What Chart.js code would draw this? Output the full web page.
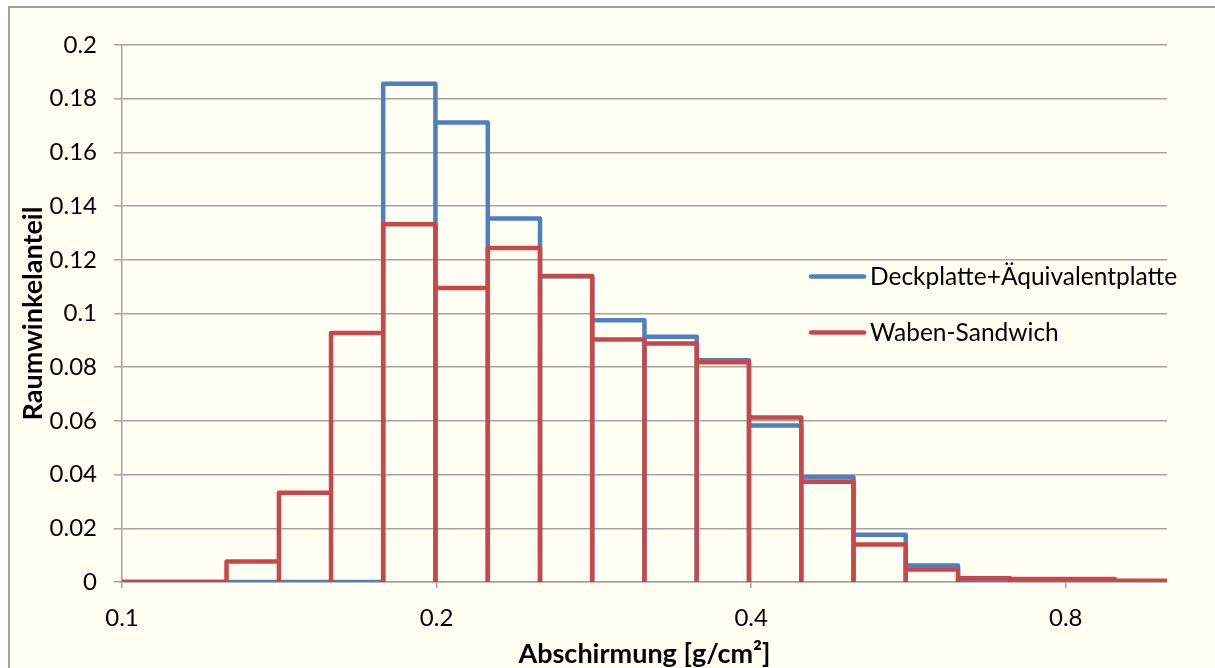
<!DOCTYPE html>
<html>
<head>
<meta charset="utf-8">
<script src="https://cdn.jsdelivr.net/npm/chart.js@4.4.1/dist/chart.umd.min.js"></script>
<style>
  html, body { margin: 0; padding: 0; background: #ffffff; }
  canvas { display: block; }
</style>
</head>
<body>
<canvas id="chart" width="1215" height="668"></canvas>
<script>
// Bin edges of the shielding histogram (20 bins per decade, 0.1 .. 1.0 g/cm²)
const binEdges = [0.1, 0.1122, 0.1259, 0.1413, 0.1585, 0.1778, 0.1995, 0.2239, 0.2512, 0.2818,
                  0.3162, 0.3548, 0.3981, 0.4467, 0.5012, 0.5623, 0.631, 0.7079, 0.7943, 0.8913, 1.0];

// Solid-angle fraction per bin
const deckplatteValues = [0, 0, 0, 0, 0, 0.1856, 0.1711, 0.1354, 0.1139, 0.0975,
                          0.0913, 0.0826, 0.0583, 0.0390, 0.0176, 0.0061, 0.0003, 0.0002, 0.0002, 0.0001];
const wabenValues      = [0, 0, 0.0076, 0.0332, 0.0927, 0.1332, 0.1095, 0.1244, 0.1140, 0.0903,
                          0.0888, 0.0818, 0.0613, 0.0373, 0.0140, 0.0047, 0.0014, 0.0011, 0.0011, 0.0005];

const seriesNames = ['Deckplatte+Äquivalentplatte', 'Waben-Sandwich'];
const xTickValues = [0.1, 0.2, 0.4, 0.8];
const yTickStep = 0.02;

const FONT = 'Lato, "Open Sans", sans-serif';
const GRID = '#a3a3a3';

// Each bin is outlined as up - across - down, returning to zero at every edge
function histogramOutline(edges, values) {
  const pts = [];
  values.forEach((v, i) => {
    pts.push({ x: edges[i], y: 0 });
    pts.push({ x: edges[i], y: v });
    pts.push({ x: edges[i + 1], y: v });
    pts.push({ x: edges[i + 1], y: 0 });
  });
  return pts;
}

const framePlugin = {
  id: 'frame',
  beforeDraw(chart) {
    const ctx = chart.ctx;
    ctx.save();
    ctx.fillStyle = '#ffffff';
    ctx.fillRect(0, 0, chart.width, chart.height);
    ctx.fillStyle = '#fffff2';
    ctx.fillRect(9, 7, chart.width, chart.height);
    ctx.strokeStyle = '#a0a0a0';
    ctx.lineWidth = 2;
    ctx.strokeRect(9, 7, chart.width + 10, chart.height + 10);
    ctx.restore();
  }
};

const legendPlugin = {
  id: 'insideLegend',
  afterDatasetsDraw(chart) {
    const ctx = chart.ctx;
    const x0 = 811, x1 = 864, tx = 870;
    const rows = [276.5, 332.5];
    ctx.save();
    ctx.font = '24.5px ' + FONT;
    ctx.textBaseline = 'middle';
    ctx.textAlign = 'left';
    chart.data.datasets.forEach((ds, i) => {
      ctx.strokeStyle = ds.borderColor;
      ctx.lineWidth = 4.5;
      ctx.lineCap = 'round';
      ctx.beginPath();
      ctx.moveTo(x0, rows[i]);
      ctx.lineTo(x1, rows[i]);
      ctx.stroke();
      ctx.fillStyle = '#000000';
      ctx.fillText(ds.label, tx, rows[i] + 1);
    });
    ctx.restore();
  }
};

new Chart(document.getElementById('chart'), {
  type: 'line',
  data: {
    datasets: [
      {
        label: seriesNames[0],
        data: histogramOutline(binEdges, deckplatteValues),
        borderColor: '#4f7fbe',
        borderWidth: 4.5,
        borderJoinStyle: 'round',
        borderCapStyle: 'round',
        pointRadius: 0,
        fill: false,
        tension: 0,
        order: 1
      },
      {
        label: seriesNames[1],
        data: histogramOutline(binEdges, wabenValues),
        borderColor: '#c9464b',
        borderWidth: 4.5,
        borderJoinStyle: 'round',
        borderCapStyle: 'round',
        pointRadius: 0,
        fill: false,
        tension: 0,
        order: 0
      }
    ]
  },
  options: {
    responsive: false,
    devicePixelRatio: 1,
    animation: false,
    parsing: false,
    layout: { padding: { left: 0, top: 45, right: 48, bottom: 0 } },
    plugins: {
      legend: { display: false },
      tooltip: { enabled: false }
    },
    scales: {
      x: {
        type: 'logarithmic',
        min: 0.1,
        max: 1.0,
        afterBuildTicks(scale) {
          scale.ticks = xTickValues.map(v => ({ value: v, major: false }));
        },
        afterFit(scale) { scale.height = 86; },
        ticks: {
          autoSkip: false,
          maxRotation: 0,
          padding: 15.5,
          color: '#000000',
          font: { family: FONT, size: 24 },
          callback: v => String(v)
        },
        grid: {
          drawOnChartArea: false,
          drawTicks: true,
          tickLength: 6,
          color: GRID,
          lineWidth: 1.5
        },
        border: { display: true, color: GRID, width: 1.5 },
        title: {
          display: true,
          text: 'Abschirmung [g/cm²]',
          color: '#000000',
          font: { family: FONT, size: 27, weight: 'bold', lineHeight: 1 },
          padding: { top: 0, bottom: 0 }
        }
      },
      y: {
        type: 'linear',
        min: 0,
        max: 0.2,
        afterFit(scale) { scale.width = 122; },
        ticks: {
          stepSize: yTickStep,
          padding: 17,
          color: '#000000',
          font: { family: FONT, size: 24 },
          callback: v => String(Math.round(v * 100) / 100)
        },
        grid: {
          drawTicks: true,
          tickLength: 8,
          color: GRID,
          lineWidth: 1.5
        },
        border: { display: true, color: GRID, width: 1.5 },
        title: {
          display: true,
          text: 'Raumwinkelanteil',
          color: '#000000',
          font: { family: FONT, size: 27, weight: 'bold', lineHeight: 1 },
          padding: { top: 19.5, bottom: 0 }
        }
      }
    }
  },
  plugins: [framePlugin, legendPlugin]
});
</script>
</body>
</html>
